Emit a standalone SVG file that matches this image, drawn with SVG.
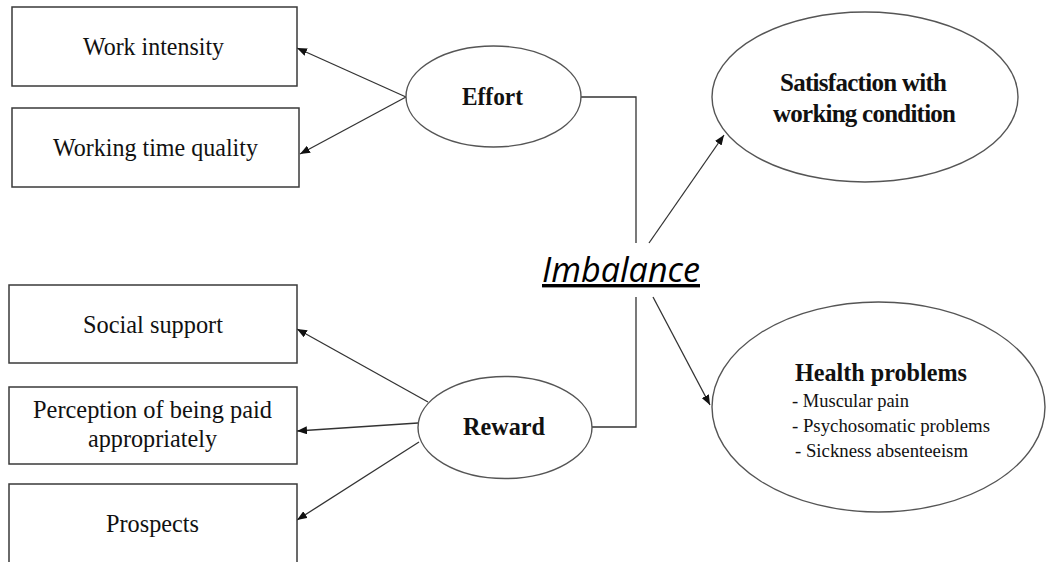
<svg xmlns="http://www.w3.org/2000/svg" width="1046" height="562" viewBox="0 0 1046 562">
<style>
.box{fill:#fff;stroke:#3a3a3a;stroke-width:1.5}
.ell{fill:#fff;stroke:#555;stroke-width:1.4}
.t{font-family:"Liberation Serif","Times New Roman",serif;font-size:26px;fill:#111;text-anchor:middle}
.tb{font-family:"Liberation Serif","Times New Roman",serif;font-size:25px;font-weight:bold;fill:#111;text-anchor:middle}
.ts{font-family:"Liberation Serif","Times New Roman",serif;font-size:19px;fill:#111}
.con{fill:none;stroke:#333;stroke-width:1.3}
.arr{fill:none;stroke:#333;stroke-width:1.3;marker-end:url(#ah)}
</style>
<defs>
<marker id="ah" markerUnits="userSpaceOnUse" markerWidth="10" markerHeight="8" refX="10" refY="4" orient="auto">
<path d="M0,0 L10,4 L0,8 z" fill="#111"/>
</marker>
</defs>
<rect width="1046" height="562" fill="#fff"/>
<g id="connectors">
<polyline class="con" points="581,97 636,97 636,243"/>
<polyline class="con" points="636,297 636,427 592,427"/>
<line class="arr" x1="406" y1="97" x2="297" y2="48"/>
<line class="arr" x1="406" y1="97" x2="300" y2="154"/>
<line class="arr" x1="428" y1="402" x2="297" y2="329"/>
<line class="arr" x1="418" y1="423" x2="297" y2="431"/>
<line class="arr" x1="419" y1="442" x2="297" y2="520"/>
<line class="arr" x1="649" y1="243" x2="724" y2="135"/>
<line class="arr" x1="653" y1="297" x2="710" y2="405"/>
</g>
<g id="work-intensity">
<rect class="box" x="12" y="7" width="285" height="79"/>
<text class="t" x="153.5" y="55" textLength="141" lengthAdjust="spacingAndGlyphs">Work intensity</text>
</g>
<g id="working-time-quality">
<rect class="box" x="12" y="108" width="287" height="79"/>
<text class="t" x="155.5" y="156" textLength="205" lengthAdjust="spacingAndGlyphs">Working time quality</text>
</g>
<g id="social-support">
<rect class="box" x="9" y="285" width="288" height="78"/>
<text class="t" x="153" y="333" textLength="140" lengthAdjust="spacingAndGlyphs">Social support</text>
</g>
<g id="perception">
<rect class="box" x="9" y="387" width="288" height="77"/>
<text class="t" x="152.5" y="418" textLength="239" lengthAdjust="spacingAndGlyphs">Perception of being paid</text>
<text class="t" x="152.5" y="447" textLength="129" lengthAdjust="spacingAndGlyphs">appropriately</text>
</g>
<g id="prospects">
<rect class="box" x="9" y="484" width="288" height="90"/>
<text class="t" x="152.5" y="532" textLength="93" lengthAdjust="spacingAndGlyphs">Prospects</text>
</g>
<g id="effort">
<ellipse class="ell" cx="493.5" cy="96.5" rx="87.5" ry="50.5"/>
<text class="tb" x="492.5" y="105" textLength="61" lengthAdjust="spacingAndGlyphs">Effort</text>
</g>
<g id="reward">
<ellipse class="ell" cx="505" cy="427.5" rx="87" ry="51"/>
<text class="tb" x="504" y="435" textLength="82" lengthAdjust="spacingAndGlyphs">Reward</text>
</g>
<g id="imbalance">
<text x="621" y="282" text-anchor="middle" font-family="'Open Sans','DejaVu Sans',sans-serif" font-style="italic" font-size="34" fill="#000" text-decoration="underline" textLength="158" lengthAdjust="spacingAndGlyphs">Imbalance</text>
</g>
<g id="satisfaction">
<ellipse class="ell" cx="865" cy="97" rx="153" ry="85"/>
<text class="tb" x="863.5" y="91" font-size="21" textLength="167">Satisfaction with</text>
<text class="tb" x="864.5" y="122" font-size="21" textLength="183">working condition</text>
</g>
<g id="health">
<ellipse class="ell" cx="878.5" cy="407" rx="166.5" ry="105"/>
<text class="tb" x="881" y="381" font-size="25" textLength="172" lengthAdjust="spacingAndGlyphs">Health problems</text>
<text class="ts" x="792" y="407" textLength="117" lengthAdjust="spacingAndGlyphs">- Muscular  pain</text>
<text class="ts" x="792" y="432" textLength="198" lengthAdjust="spacingAndGlyphs">- Psychosomatic problems</text>
<text class="ts" x="795" y="457" textLength="173" lengthAdjust="spacingAndGlyphs">- Sickness absenteeism</text>
</g>
</svg>
